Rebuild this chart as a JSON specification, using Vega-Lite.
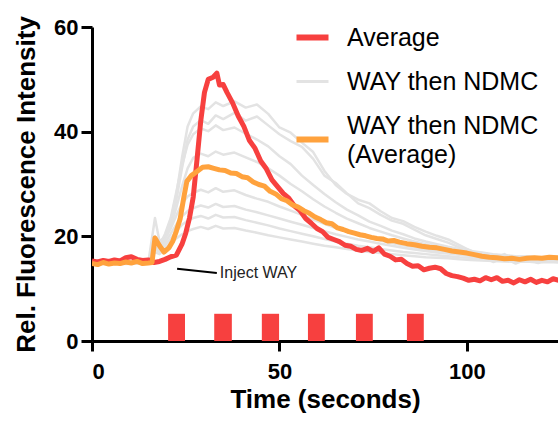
{
  "$schema": "https://vega.github.io/schema/vega-lite/v6.json",
  "width": 466,
  "height": 314,
  "autosize": "none",
  "padding": {"left": 92, "top": 27, "right": 0, "bottom": 80},
  "background": "white",
  "config": {
    "view": {"stroke": null},
    "font": "Liberation Sans",
    "axis": {
      "domainColor": "black", "domainWidth": 3, "tickColor": "black", "tickWidth": 3, "tickSize": 10,
      "grid": false, "labelFont": "Liberation Sans", "labelFontSize": 22, "labelFontWeight": "bold",
      "labelColor": "black", "titleFont": "Liberation Sans", "titleFontSize": 26, "titleFontWeight": "bold",
      "titleColor": "black"
    }
  },
  "datasets": {
    "grey": [
      {"t":0,"g1":15.2,"g2":14.8,"g3":15.0,"g4":14.6,"g5":15.1,"g6":15.3,"g7":14.9,"g8":15.0},
      {"t":3,"g1":15.0,"g2":15.1,"g3":15.3,"g4":14.9,"g5":14.8,"g6":15.1,"g7":15.2,"g8":14.8},
      {"t":6,"g1":15.4,"g2":14.7,"g3":15.1,"g4":15.0,"g5":15.2,"g6":14.9,"g7":15.0,"g8":15.1},
      {"t":9,"g1":15.1,"g2":15.0,"g3":14.8,"g4":14.7,"g5":15.0,"g6":15.2,"g7":15.3,"g8":14.9},
      {"t":12,"g1":15.3,"g2":14.9,"g3":15.2,"g4":14.8,"g5":14.9,"g6":15.0,"g7":15.1,"g8":15.2},
      {"t":15,"g1":15.0,"g2":15.2,"g3":15.1,"g4":14.9,"g5":15.0,"g6":15.1,"g7":14.9,"g8":15.0},
      {"t":16.8,"g1":17.5,"g2":18,"g3":19,"g4":23.5,"g5":20,"g6":18.5,"g7":17.5,"g8":17},
      {"t":18,"g1":17.8,"g2":17.5,"g3":18.2,"g4":19,"g5":18,"g6":17.5,"g7":17.0,"g8":16.6},
      {"t":19.5,"g1":20,"g2":19.5,"g3":20.5,"g4":20,"g5":19.5,"g6":18.8,"g7":18.2,"g8":17.6},
      {"t":21,"g1":23,"g2":22.5,"g3":23.5,"g4":22,"g5":21.5,"g6":20.5,"g7":19.6,"g8":18.6},
      {"t":22.5,"g1":28,"g2":27,"g3":28.5,"g4":25.5,"g5":24,"g6":22.3,"g7":21.0,"g8":19.6},
      {"t":24,"g1":35,"g2":33,"g3":33.5,"g4":29.5,"g5":26.2,"g6":23.8,"g7":22.2,"g8":20.4},
      {"t":25.5,"g1":41,"g2":38.5,"g3":37.5,"g4":33,"g5":27.6,"g6":24.8,"g7":23.0,"g8":21.0},
      {"t":27,"g1":43.5,"g2":41,"g3":39.5,"g4":35,"g5":28.3,"g6":25.4,"g7":23.5,"g8":21.4},
      {"t":29,"g1":44.8,"g2":42.2,"g3":40.6,"g4":35.8,"g5":28.9,"g6":25.9,"g7":23.9,"g8":21.8},
      {"t":31,"g1":44.3,"g2":41.5,"g3":40.1,"g4":35.3,"g5":28.4,"g6":25.5,"g7":23.4,"g8":21.4},
      {"t":33,"g1":45.6,"g2":43.1,"g3":41.2,"g4":36.2,"g5":29.2,"g6":26.2,"g7":24.1,"g8":22.0},
      {"t":35,"g1":44.9,"g2":42.4,"g3":40.3,"g4":35.6,"g5":28.5,"g6":25.6,"g7":23.6,"g8":21.5},
      {"t":38,"g1":45.8,"g2":43.6,"g3":40.8,"g4":36.0,"g5":28.8,"g6":25.8,"g7":23.7,"g8":21.6},
      {"t":41,"g1":44.6,"g2":42.1,"g3":39.6,"g4":35.1,"g5":27.9,"g6":25.1,"g7":23.1,"g8":21.1},
      {"t":44,"g1":45.2,"g2":42.9,"g3":38.5,"g4":34.2,"g5":27.2,"g6":24.6,"g7":22.6,"g8":20.7},
      {"t":47,"g1":43.4,"g2":41.2,"g3":37.2,"g4":33.0,"g5":26.6,"g6":24.0,"g7":22.1,"g8":20.2},
      {"t":50,"g1":40.8,"g2":39.5,"g3":35.3,"g4":31.6,"g5":25.7,"g6":23.4,"g7":21.5,"g8":19.8},
      {"t":53,"g1":39.8,"g2":38.2,"g3":33.8,"g4":30.0,"g5":24.9,"g6":22.8,"g7":21.0,"g8":19.4},
      {"t":56,"g1":37.9,"g2":37.1,"g3":31.6,"g4":28.6,"g5":24.1,"g6":22.2,"g7":20.5,"g8":19.0},
      {"t":59,"g1":36.1,"g2":34.8,"g3":29.8,"g4":27.1,"g5":23.2,"g6":21.6,"g7":20.0,"g8":18.6},
      {"t":62,"g1":32.5,"g2":31.6,"g3":28.1,"g4":25.7,"g5":22.4,"g6":21.0,"g7":19.5,"g8":18.2},
      {"t":65,"g1":29.8,"g2":30.2,"g3":26.5,"g4":24.5,"g5":21.6,"g6":20.4,"g7":19.0,"g8":17.9},
      {"t":68,"g1":28.1,"g2":28.2,"g3":25.1,"g4":23.4,"g5":20.9,"g6":19.9,"g7":18.6,"g8":17.6},
      {"t":71,"g1":27.0,"g2":26.3,"g3":24.0,"g4":22.5,"g5":20.3,"g6":19.4,"g7":18.2,"g8":17.3},
      {"t":74,"g1":26.3,"g2":25.4,"g3":22.8,"g4":21.6,"g5":19.7,"g6":19.0,"g7":17.9,"g8":17.0},
      {"t":77,"g1":24.8,"g2":24.1,"g3":22.0,"g4":20.9,"g5":19.2,"g6":18.6,"g7":17.6,"g8":16.8},
      {"t":80,"g1":23.5,"g2":23.0,"g3":21.1,"g4":20.2,"g5":18.7,"g6":18.2,"g7":17.3,"g8":16.6},
      {"t":83,"g1":22.9,"g2":22.4,"g3":20.4,"g4":19.6,"g5":18.3,"g6":17.8,"g7":17.0,"g8":16.4},
      {"t":86,"g1":21.8,"g2":21.3,"g3":19.6,"g4":19.0,"g5":17.9,"g6":17.5,"g7":16.8,"g8":16.2},
      {"t":89,"g1":20.9,"g2":20.2,"g3":19.0,"g4":18.5,"g5":17.5,"g6":17.2,"g7":16.6,"g8":16.0},
      {"t":92,"g1":20.1,"g2":19.5,"g3":18.5,"g4":18.1,"g5":17.2,"g6":16.9,"g7":16.4,"g8":15.9},
      {"t":95,"g1":19.4,"g2":18.8,"g3":18.0,"g4":17.7,"g5":16.9,"g6":16.7,"g7":16.2,"g8":15.8},
      {"t":98,"g1":18.3,"g2":17.9,"g3":17.6,"g4":17.3,"g5":16.6,"g6":16.5,"g7":16.0,"g8":15.6},
      {"t":101,"g1":17.2,"g2":17.3,"g3":17.2,"g4":17.0,"g5":16.4,"g6":16.3,"g7":15.9,"g8":15.5},
      {"t":104,"g1":16.4,"g2":16.2,"g3":16.9,"g4":16.7,"g5":16.2,"g6":16.1,"g7":15.7,"g8":15.4},
      {"t":107,"g1":15.8,"g2":15.1,"g3":16.6,"g4":16.5,"g5":16.0,"g6":15.9,"g7":15.6,"g8":15.3},
      {"t":110,"g1":16.6,"g2":15.9,"g3":16.4,"g4":16.3,"g5":15.9,"g6":15.8,"g7":15.5,"g8":15.2},
      {"t":113,"g1":15.4,"g2":14.8,"g3":16.2,"g4":16.1,"g5":15.7,"g6":15.6,"g7":15.4,"g8":15.1},
      {"t":116,"g1":16.2,"g2":15.7,"g3":16.1,"g4":16.2,"g5":15.8,"g6":15.7,"g7":15.5,"g8":15.2},
      {"t":119,"g1":15.3,"g2":14.9,"g3":15.9,"g4":16.0,"g5":15.6,"g6":15.5,"g7":15.3,"g8":15.0},
      {"t":122,"g1":16.1,"g2":15.8,"g3":16.0,"g4":15.9,"g5":15.7,"g6":15.6,"g7":15.4,"g8":15.1},
      {"t":125,"g1":15.6,"g2":15.2,"g3":15.8,"g4":16.0,"g5":15.5,"g6":15.4,"g7":15.3,"g8":15.0}
    ],
    "avg": [
      {"t":0,"v":15.3},{"t":1.5,"v":15.1},{"t":3,"v":15.4},{"t":4.5,"v":15.2},{"t":6,"v":15.5},{"t":7.5,"v":15.3},
      {"t":9,"v":15.9},{"t":10.5,"v":16.1},{"t":12,"v":15.6},{"t":13.5,"v":15.4},{"t":15,"v":15.5},{"t":16.5,"v":15.0},
      {"t":18,"v":15.2},{"t":19.5,"v":15.6},{"t":21,"v":16.1},{"t":22.5,"v":16.4},{"t":24,"v":18.5},{"t":25,"v":20.6},
      {"t":26,"v":23.5},{"t":27,"v":27.5},{"t":28,"v":34.6},{"t":29,"v":42},{"t":30,"v":47.5},{"t":31,"v":50},
      {"t":32.3,"v":50.4},{"t":33.3,"v":51.2},{"t":34,"v":48.9},{"t":35,"v":49},{"t":36,"v":47.5},{"t":37.5,"v":45.5},
      {"t":39,"v":43},{"t":40.5,"v":41},{"t":42,"v":38.3},{"t":43.5,"v":36.8},{"t":45,"v":34.4},{"t":46.5,"v":32.9},
      {"t":48,"v":30.8},{"t":49.5,"v":29.5},{"t":51,"v":28.2},{"t":52.5,"v":27.3},{"t":54,"v":25.8},{"t":55.5,"v":24.9},
      {"t":57,"v":23.4},{"t":58.5,"v":22.5},{"t":60,"v":21.5},{"t":61.5,"v":20.9},{"t":63,"v":19.8},{"t":64.5,"v":19.4},
      {"t":66,"v":19},{"t":67.5,"v":18.3},{"t":69,"v":18.1},{"t":70.5,"v":17.5},{"t":72,"v":17.3},{"t":73.5,"v":17.7},
      {"t":75,"v":17.1},{"t":76.5,"v":17.8},{"t":78,"v":16.6},{"t":79.5,"v":16.2},{"t":81,"v":15.5},{"t":82.5,"v":15.6},
      {"t":84,"v":14.8},{"t":85.5,"v":14.3},{"t":87,"v":14.4},{"t":88.5,"v":13.6},{"t":90,"v":13.9},{"t":91.5,"v":14.1},
      {"t":93,"v":13.8},{"t":94.5,"v":12.9},{"t":96,"v":12.5},{"t":97.5,"v":12.3},{"t":99,"v":12.0},{"t":100.5,"v":11.6},
      {"t":102,"v":11.8},{"t":103.5,"v":11.5},{"t":105,"v":12.1},{"t":106.5,"v":11.7},{"t":108,"v":12.1},{"t":109.5,"v":11.4},
      {"t":111,"v":11.6},{"t":112.5,"v":11.1},{"t":114,"v":11.7},{"t":115.5,"v":11.3},{"t":117,"v":11.8},{"t":118.5,"v":11.2},
      {"t":120,"v":11.6},{"t":121.5,"v":11.3},{"t":123,"v":11.9},{"t":124.5,"v":11.6}
    ],
    "way": [
      {"t":0,"v":14.8},{"t":1.5,"v":14.6},{"t":3,"v":15.0},{"t":4.5,"v":14.7},{"t":6,"v":14.9},{"t":7.5,"v":14.8},
      {"t":9,"v":15.1},{"t":10.5,"v":14.9},{"t":12,"v":15.2},{"t":13.5,"v":14.8},{"t":15,"v":14.9},{"t":16,"v":15.0},
      {"t":16.8,"v":19.7},{"t":18,"v":18.2},{"t":19.2,"v":17.0},{"t":20.5,"v":17.8},{"t":21.5,"v":19},{"t":22.5,"v":21},
      {"t":23.5,"v":23.3},{"t":24.5,"v":27.5},{"t":25.3,"v":30.5},{"t":26.5,"v":31.6},{"t":28,"v":32.4},{"t":29.5,"v":33.2},
      {"t":31,"v":33.3},{"t":32.5,"v":33},{"t":34,"v":32.7},{"t":35.5,"v":32.6},{"t":37,"v":32.1},{"t":38.5,"v":32.0},
      {"t":40,"v":31.4},{"t":41.5,"v":31.2},{"t":43,"v":30.4},{"t":44.5,"v":29.9},{"t":46,"v":29.6},{"t":47.5,"v":28.6},
      {"t":49,"v":28.1},{"t":50.5,"v":27.2},{"t":52,"v":26.8},{"t":53.5,"v":26.0},{"t":55,"v":25.6},{"t":56.5,"v":24.9},
      {"t":58,"v":24.4},{"t":59.5,"v":23.7},{"t":61,"v":23.2},{"t":62.5,"v":22.6},{"t":64,"v":22.4},{"t":65.5,"v":21.6},
      {"t":67,"v":21.3},{"t":68.5,"v":20.9},{"t":70,"v":20.6},{"t":71.5,"v":20.3},{"t":73,"v":20.1},{"t":74.5,"v":19.8},
      {"t":76,"v":19.6},{"t":77.5,"v":19.5},{"t":79,"v":19.1},{"t":80.5,"v":19.2},{"t":82,"v":18.9},{"t":84,"v":18.6},
      {"t":86,"v":18.4},{"t":88,"v":18.1},{"t":90,"v":17.9},{"t":92,"v":17.8},{"t":94,"v":17.5},{"t":96,"v":17.2},
      {"t":98,"v":17.0},{"t":100,"v":16.8},{"t":102,"v":16.5},{"t":104,"v":16.2},{"t":106,"v":16.0},{"t":108,"v":15.9},
      {"t":110,"v":15.7},{"t":112,"v":15.8},{"t":114,"v":15.6},{"t":116,"v":15.8},{"t":118,"v":15.9},{"t":120,"v":15.8},
      {"t":122,"v":16.0},{"t":124.5,"v":15.9}
    ],
    "pulses": [
      {"s":20.3,"e":24.8,"lo":0,"hi":5.2},{"s":32.6,"e":37.3,"lo":0,"hi":5.2},{"s":45.3,"e":49.9,"lo":0,"hi":5.2},
      {"s":57.6,"e":62.1,"lo":0,"hi":5.2},{"s":70.4,"e":74.9,"lo":0,"hi":5.2},{"s":84.0,"e":88.5,"lo":0,"hi":5.2}
    ],
    "note": [
      {"x":22.7,"y":13.8,"x2":33.3,"y2":13.0,"label":"Inject WAY"}
    ]
  },
  "layer": [
    {
      "data": {"name": "grey"},
      "transform": [{"fold": ["g1","g2","g3","g4","g5","g6","g7","g8"], "as": ["id","v"]}],
      "mark": {"type": "line", "strokeWidth": 2.5, "clip": true, "strokeJoin": "round"},
      "encoding": {
        "x": {"field": "t", "type": "quantitative", "scale": {"domain": [0, 124.3], "nice": false, "zero": false},
              "title": "Time (seconds)",
              "axis": {"title": "Time (seconds)", "values": [0, 50, 100], "labelPadding": 10, "titlePadding": 4}},
        "y": {"field": "v", "type": "quantitative", "scale": {"domain": [0, 60], "nice": false},
              "title": "Rel.  Fluorescence Intensity",
              "axis": {"title": "Rel.  Fluorescence Intensity", "values": [0, 20, 40, 60], "labelPadding": 3, "tickSize": 11, "titlePadding": 14}},
        "detail": {"field": "id"},
        "color": {
          "datum": "WAY then NDMC",
          "scale": {"domain": ["Average", "WAY then NDMC", "WAY then NDMC (Average)"], "range": ["#f7403f", "#e3e3e3", "#ffa23d"]},
          "legend": {
            "title": null, "orient": "none", "legendX": 208, "legendY": -2, "padding": 0,
            "symbolType": "stroke", "symbolSize": 1024, "symbolStrokeWidth": 6,
            "labelFont": "Liberation Sans", "labelFontSize": 25, "labelColor": "black", "labelLimit": 400,
            "labelOffset": 22, "rowPadding": 18,
            "labelExpr": "datum.value == 'WAY then NDMC (Average)' ? ['WAY then NDMC', '(Average)'] : datum.label",
            "encode": {
              "symbols": {"update": {"strokeWidth": {"signal": "datum.value == 'WAY then NDMC' ? 3 : 6"}}},
              "labels": {"update": {"lineHeight": {"value": 29}, "dy": {"signal": "datum.value == 'WAY then NDMC (Average)' ? -14 : 0"}}}
            }
          }
        }
      }
    },
    {
      "data": {"name": "avg"},
      "mark": {"type": "line", "strokeWidth": 5, "clip": true, "strokeJoin": "round"},
      "encoding": {
        "x": {"field": "t", "type": "quantitative", "title": "Time (seconds)"},
        "y": {"field": "v", "type": "quantitative", "title": "Rel.  Fluorescence Intensity"},
        "color": {"datum": "Average"}
      }
    },
    {
      "data": {"name": "way"},
      "mark": {"type": "line", "strokeWidth": 5, "clip": true, "strokeJoin": "round"},
      "encoding": {
        "x": {"field": "t", "type": "quantitative", "title": "Time (seconds)"},
        "y": {"field": "v", "type": "quantitative", "title": "Rel.  Fluorescence Intensity"},
        "color": {"datum": "WAY then NDMC (Average)"}
      }
    },
    {
      "data": {"name": "pulses"},
      "mark": {"type": "rect", "color": "#f7403f"},
      "encoding": {
        "x": {"field": "s", "type": "quantitative", "title": "Time (seconds)"},
        "x2": {"field": "e"},
        "y": {"field": "lo", "type": "quantitative", "title": "Rel.  Fluorescence Intensity"},
        "y2": {"field": "hi"}
      }
    },
    {
      "data": {"name": "note"},
      "mark": {"type": "rule", "color": "black", "strokeWidth": 2},
      "encoding": {
        "x": {"field": "x", "type": "quantitative", "title": "Time (seconds)"},
        "y": {"field": "y", "type": "quantitative", "title": "Rel.  Fluorescence Intensity"},
        "x2": {"field": "x2"},
        "y2": {"field": "y2"}
      }
    },
    {
      "data": {"name": "note"},
      "mark": {"type": "text", "align": "left", "baseline": "middle", "dx": 3, "fontSize": 16, "font": "Liberation Sans", "color": "#222222"},
      "encoding": {
        "x": {"field": "x2", "type": "quantitative", "title": "Time (seconds)"},
        "y": {"field": "y2", "type": "quantitative", "title": "Rel.  Fluorescence Intensity"},
        "text": {"field": "label"}
      }
    }
  ]
}
